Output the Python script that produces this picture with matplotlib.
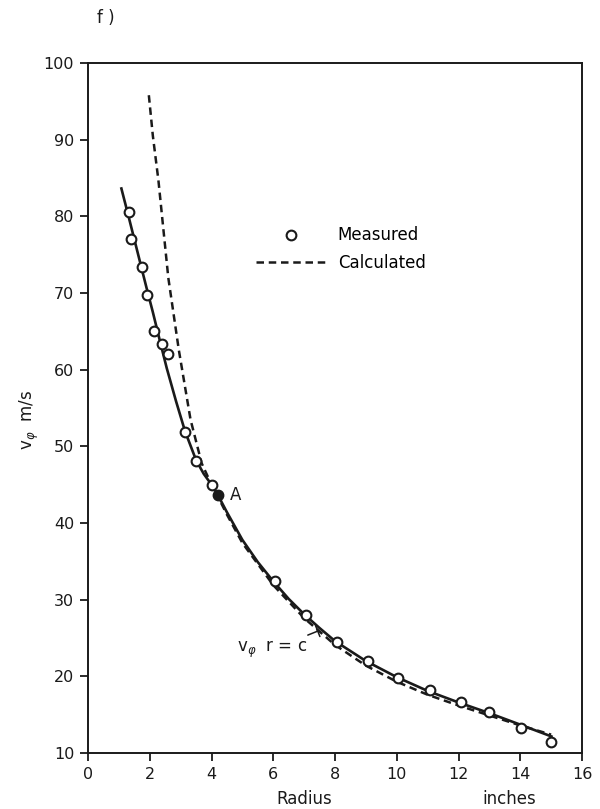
import matplotlib
matplotlib.use("Agg")
import matplotlib.pyplot as plt
import matplotlib.transforms as mtransforms
from matplotlib.lines import Line2D

# measured points (open circles)
r_meas = [1.33, 1.39, 1.75, 1.91, 2.14, 2.39, 2.59, 3.14, 3.50, 4.00,
          6.05, 7.05, 8.06, 9.06, 10.03, 11.07, 12.07, 13.0, 14.04, 14.98]
v_meas = [80.6, 77.0, 73.4, 69.8, 65.0, 63.4, 62.1, 51.9, 48.1, 45.0,
          32.4, 28.0, 24.5, 22.0, 19.8, 18.2, 16.6, 15.3, 13.2, 11.4]

# point A (filled)
r_A = [4.2]
v_A = [43.7]

# solid curve through measured points
r_fit = [1.07, 1.3, 1.5, 1.75, 1.9, 2.1, 2.35, 2.55, 2.85, 3.14, 3.5, 3.75,
         4.0, 4.2, 4.5, 5.0, 5.5, 6.0, 6.5, 7.0, 7.5, 8.0, 9.0, 10.0, 11.0,
         12.0, 13.0, 14.0, 15.05]
v_fit = [83.8, 80.2, 77.0, 73.0, 70.6, 67.5, 63.4, 60.2, 55.9, 52.0, 48.2, 46.4,
         45.0, 43.7, 41.4, 37.8, 34.9, 32.4, 30.1, 28.1, 26.3, 24.6, 22.0, 19.9, 18.1,
         16.6, 15.2, 13.7, 12.1]

# calculated curve (dashed)
r_calc = [1.97, 2.1, 2.28, 2.6, 2.94, 3.32, 3.68, 4.0, 4.2, 4.5, 5.0, 6.0, 7.0,
          8.0, 9.0, 10.0, 11.0, 12.0, 13.0, 14.0, 15.0]
v_calc = [95.8, 90.5, 84.7, 72.0, 62.6, 53.5, 47.8, 45.0, 43.5, 41.1, 37.4, 31.9, 27.6,
          24.1, 21.4, 19.3, 17.6, 16.2, 14.9, 13.6, 12.4]

xticks = [0, 2, 4, 6, 8, 10, 12, 14, 16]
yticks = [10, 20, 30, 40, 50, 60, 70, 80, 90, 100]

ink = '#1a1a1a'
plt.rcParams['font.family'] = ['DejaVu Sans']
plt.rcParams['mathtext.fontset'] = 'dejavusans'

fig = plt.figure(figsize=(6.0, 8.09), dpi=100)
ax = fig.add_axes([0.1467, 0.0692, 0.8233, 0.8529])

ax.plot(r_fit, v_fit, color=ink, lw=1.9, solid_capstyle='butt')
ax.plot(r_calc, v_calc, color=ink, lw=1.8, dashes=(3.0, 1.9))
ax.plot(r_meas, v_meas, 'o', ms=7, mfc='white', mec=ink, mew=1.5)
ax.plot(r_A, v_A, 'o', ms=7.5, mfc=ink, mec=ink)

ax.set_xlim(0, 16)
ax.set_ylim(10, 100)
ax.set_xticks(xticks)
ax.set_yticks(yticks)
ax.tick_params(direction='out', length=6, width=1.3, colors=ink,
               labelsize=11.5, pad=4)
for s in ax.spines.values():
    s.set_linewidth(1.4)
    s.set_color(ink)

trans = mtransforms.blended_transform_factory(ax.transData, ax.transAxes)
ax.text(7.0, -0.066, 'Radius', transform=trans, ha='center', va='center',
        fontsize=12, color=ink)
ax.text(13.65, -0.066, 'inches', transform=trans, ha='center', va='center',
        fontsize=12, color=ink)
ax.set_ylabel(r'$\mathrm{v}_{\varphi}$  m/s', fontsize=12, color=ink)
ax.yaxis.set_label_coords(-0.095, 0.483)

fig.text(97 / 600, 1 - 18 / 809, 'f )', fontsize=12, color=ink, va='center')

ax.text(4.6, 43.7, 'A', fontsize=12, color=ink, va='center', ha='left')

ax.annotate(r'$\mathrm{v}_{\varphi}$  r = c', xy=(7.44, 25.9), xytext=(4.82, 23.5),
            fontsize=12, color=ink, va='center', ha='left',
            arrowprops=dict(arrowstyle='-[, widthB=0.35, lengthB=0.0',
                            color=ink, lw=1.1, shrinkA=2, shrinkB=0))

handles = [Line2D([], [], ls='none', marker='o', ms=7, mfc='white', mec=ink, mew=1.5),
           Line2D([], [], color=ink, lw=1.8, dashes=(3.0, 1.9))]
ax.legend(handles, ['Measured', 'Calculated'], loc='upper left',
          bbox_to_anchor=(0.31, 0.785), frameon=False, fontsize=12,
          handlelength=4.2, handletextpad=0.7, labelspacing=0.55)

fig.savefig('out.png', dpi=100, facecolor='white')
